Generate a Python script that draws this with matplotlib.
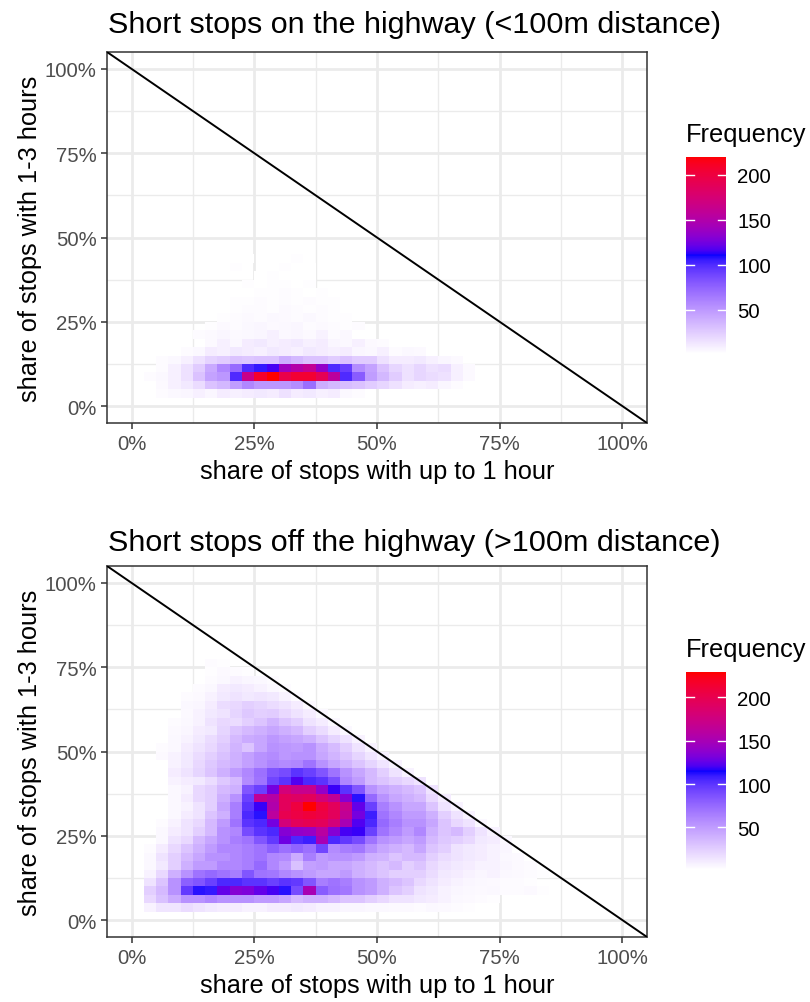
import numpy as np
import matplotlib
matplotlib.use("Agg")
import matplotlib.pyplot as plt
from matplotlib.colors import ListedColormap

plt.rcParams["font.family"] = ["Liberation Sans", "DejaVu Sans"]

# bin size of the 2d histogram (share units)
binw = 0.025

# top panel: (first column, counts) per row of bins, row 0 = 0-2.5%
top_start = [0, 2, 2, 1, 2, 2, 4, 6, 5, 6, 7, 8, 8, 9, 9, 10, 8, 9]
top_rows = [
    [],
    [3, 5, 6, 8, 6, 10, 8, 10, 12, 10, 15, 10, 12, 8, 10, 5, 3],
    [4, 8, 12, 18, 30, 35, 48, 58, 50, 50, 50, 55, 70, 40, 35, 32, 30, 25, 20, 15, 10, 8, 10, 6, 3],
    [3, 5, 8, 15, 30, 45, 50, 100, 165, 208, 220, 195, 205, 205, 190, 155, 100, 78, 48, 35, 25, 15, 20, 18, 15, 8, 4],
    [3, 8, 15, 25, 42, 58, 72, 100, 106, 115, 140, 150, 160, 135, 100, 92, 55, 45, 30, 20, 15, 20, 15, 18, 8, 4],
    [3, 5, 8, 15, 22, 25, 30, 28, 30, 30, 40, 35, 30, 30, 25, 30, 25, 25, 15, 10, 10, 12, 8, 6, 4],
    [3, 5, 10, 8, 12, 10, 8, 12, 10, 8, 12, 10, 8, 10, 6, 5, 8, 3, 5, 4],
    [4, 8, 5, 10, 12, 8, 10, 12, 8, 10, 6, 5, 8, 4, 3],
    [3, 4, 6, 4, 5, 6, 8, 5, 6, 4, 7, 3, 5],
    [2, 4, 3, 5, 6, 4, 5, 6, 3, 4, 3, 2, 3],
    [2, 3, 4, 3, 5, 4, 3, 5, 3, 2, 2],
    [2, 3, 3, 2, 4, 3, 2, 3, 2],
    [2, 2, 3, 2, 3, 2, 3, 2, 2],
    [1, 2, 2, 3, 2, 1, 2],
    [2, 1, 2, 2, 1, 2],
    [1, 2, 1, 1, 1],
    [2, 0, 0, 0, 2, 0, 1],
    [1, 0, 0, 0, 2],
]

# bottom panel
bot_start = [0, 1, 1, 1, 1, 1, 1, 1, 1, 2, 2, 2, 3, 3, 3, 3, 3, 3, 3, 2, 2,
             3, 3, 3, 4, 4, 4, 5, 6, 6, 6]
bot_rows = [
    [],
    [8, 14, 14, 18, 15, 12, 10, 10, 8, 8, 10, 10, 12, 10, 8, 8, 6, 6, 5, 5, 4, 4, 3, 5, 4, 3, 2],
    [20, 32, 42, 55, 55, 60, 55, 55, 55, 50, 50, 45, 35, 40, 40, 35, 30, 30, 25, 20, 15, 15, 12, 10, 8, 5, 4, 3, 2],
    [25, 35, 55, 98, 112, 110, 125, 135, 132, 125, 120, 112, 90, 150, 82, 72, 68, 55, 50, 40, 30, 25, 15, 12, 8, 6, 5, 4, 5, 3, 3, 4, 2],
    [15, 30, 55, 80, 85, 95, 105, 105, 100, 100, 95, 100, 98, 85, 65, 70, 65, 55, 50, 40, 35, 30, 20, 15, 10, 8, 6, 5, 4, 3, 3, 2],
    [8, 20, 40, 55, 70, 75, 70, 65, 85, 70, 68, 60, 55, 50, 45, 45, 50, 40, 35, 30, 25, 25, 25, 18, 12, 10, 8, 6, 8, 5, 4, 3, 2],
    [5, 12, 25, 40, 50, 50, 60, 60, 65, 75, 60, 50, 32, 48, 50, 45, 45, 40, 35, 30, 35, 25, 30, 20, 15, 12, 10, 8, 8, 6, 4, 3],
    [5, 15, 25, 35, 45, 55, 55, 60, 65, 70, 60, 58, 42, 65, 50, 55, 55, 50, 40, 38, 30, 35, 35, 25, 18, 15, 12, 10, 8, 5, 4],
    [3, 10, 20, 30, 40, 50, 60, 60, 65, 70, 80, 72, 78, 72, 92, 58, 65, 68, 55, 45, 40, 35, 45, 30, 25, 15, 12, 10, 8, 6],
    [5, 15, 20, 35, 45, 55, 65, 70, 85, 98, 128, 105, 108, 150, 105, 98, 90, 70, 55, 50, 45, 50, 35, 28, 25, 20, 12, 10, 5],
    [5, 10, 15, 25, 35, 55, 60, 90, 100, 105, 135, 140, 142, 160, 135, 120, 118, 95, 70, 60, 50, 60, 40, 30, 35, 25, 15, 8],
    [3, 8, 15, 20, 35, 50, 70, 100, 105, 130, 180, 195, 198, 195, 180, 150, 122, 105, 75, 65, 55, 55, 45, 30, 20, 15, 5],
    [5, 10, 15, 30, 40, 65, 105, 112, 162, 200, 205, 210, 205, 195, 165, 130, 108, 70, 60, 50, 50, 40, 25, 15, 8],
    [5, 8, 15, 25, 45, 65, 100, 118, 155, 195, 208, 229, 208, 195, 170, 125, 95, 65, 55, 45, 45, 30, 15, 8],
    [5, 10, 20, 25, 40, 55, 95, 165, 158, 195, 190, 195, 180, 165, 135, 112, 75, 55, 45, 40, 35, 20, 10],
    [5, 8, 20, 25, 35, 40, 85, 95, 130, 180, 170, 170, 140, 118, 100, 85, 55, 45, 40, 35, 30, 15],
    [8, 10, 12, 18, 28, 35, 58, 70, 92, 100, 122, 105, 100, 88, 60, 50, 35, 30, 25, 20, 15],
    [10, 15, 22, 30, 40, 50, 60, 72, 85, 90, 100, 95, 85, 70, 55, 45, 35, 25, 15, 8],
    [8, 12, 20, 28, 35, 40, 48, 55, 62, 58, 60, 70, 55, 45, 38, 30, 22, 14, 8],
    [4, 8, 12, 18, 25, 32, 40, 48, 55, 58, 52, 55, 55, 45, 38, 30, 22, 14, 8],
    [3, 5, 10, 15, 20, 28, 38, 30, 45, 55, 52, 50, 55, 42, 34, 25, 15, 8],
    [5, 8, 12, 18, 25, 35, 42, 45, 52, 48, 45, 40, 30, 22, 15, 8],
    [4, 6, 10, 12, 22, 30, 35, 40, 45, 40, 35, 25, 18, 10, 5],
    [3, 5, 8, 15, 20, 18, 25, 30, 38, 30, 25, 15, 10, 5],
    [4, 8, 12, 15, 22, 28, 25, 26, 20, 15, 10, 5],
    [5, 6, 10, 18, 20, 25, 22, 18, 15, 10, 4],
    [3, 4, 8, 12, 15, 12, 14, 12, 8, 3],
    [3, 5, 10, 12, 10, 8, 5, 3],
    [3, 5, 8, 6, 5, 3],
    [2, 4, 3, 2],
    [3, 2],
]

titles = ["Short stops on the highway (<100m distance)",
          "Short stops off the highway (>100m distance)"]
xlab = "share of stops with up to 1 hour"
ylab = "share of stops with 1-3 hours"
ticks = [0, 0.25, 0.5, 0.75, 1.0]
tick_labels = ["0%", "25%", "50%", "75%", "100%"]
cbar_ticks = [50, 100, 150, 200]


# white -> blue -> red, interpolated in Lab like ggplot's gradientn
def to_lab(rgb):
    c = np.array(rgb, float)
    c = np.where(c <= 0.04045, c / 12.92, ((c + 0.055) / 1.055) ** 2.4)
    m = np.array([[0.4124, 0.3576, 0.1805], [0.2126, 0.7152, 0.0722], [0.0193, 0.1192, 0.9505]])
    xyz = m @ c / np.array([0.95047, 1.0, 1.08883])
    f = np.where(xyz > (6 / 29) ** 3, np.cbrt(xyz), xyz / (3 * (6 / 29) ** 2) + 4 / 29)
    return np.array([116 * f[1] - 16, 500 * (f[0] - f[1]), 200 * (f[1] - f[2])])


def from_lab(lab):
    fy = (lab[0] + 16) / 116
    f = np.array([fy + lab[1] / 500, fy, fy - lab[2] / 200])
    xyz = np.where(f > 6 / 29, f ** 3, 3 * (6 / 29) ** 2 * (f - 4 / 29)) * np.array([0.95047, 1.0, 1.08883])
    minv = np.array([[3.2406, -1.5372, -0.4986], [-0.9689, 1.8758, 0.0415], [0.0557, -0.2040, 1.0570]])
    c = minv @ xyz
    c = np.where(c <= 0.0031308, 12.92 * c, 1.055 * np.clip(c, 0, None) ** (1 / 2.4) - 0.055)
    return np.clip(c, 0, 1)


stops = [to_lab((1, 1, 1)), to_lab((0, 0, 1)), to_lab((1, 0, 0))]
cols = []
for t in np.linspace(0, 1, 256):
    k = min(int(t * 2), 1)
    u = t * 2 - k
    cols.append(from_lab(stops[k] * (1 - u) + stops[k + 1] * u))
cmap = ListedColormap(cols)


def build(starts, rows):
    g = np.zeros((42, 42))
    for r, (s, vals) in enumerate(zip(starts, rows)):
        g[r, s:s + len(vals)] = vals
    return np.ma.masked_equal(g, 0)


W, H = 810, 1003
fig = plt.figure(figsize=(W / 100, H / 100), dpi=100)

base = 18.3
panels = [(build(top_start, top_rows), 53, 424, 157.7, 355, 25),
          (build(bot_start, bot_rows), 567, 938, 673, 871, 543)]

edges = np.arange(43) * binw
for i, (grid, ptop, pbot, ctop, cbot, ty) in enumerate(panels):
    ax = fig.add_axes([107 / W, 1 - pbot / H, 540 / W, (pbot - ptop) / H])
    vmin, vmax = 1, grid.max()
    ax.pcolormesh(edges, edges, grid, cmap=cmap, vmin=vmin, vmax=vmax, zorder=2)
    ax.plot([-0.05, 1.05], [1.05, -0.05], color="black", lw=1.4, zorder=3)
    ax.set_xlim(-0.05, 1.05)
    ax.set_ylim(-0.05, 1.05)
    ax.set_xticks(ticks)
    ax.set_yticks(ticks)
    ax.set_xticklabels(tick_labels)
    ax.set_yticklabels(tick_labels)
    ax.set_xticks([0.125, 0.375, 0.625, 0.875], minor=True)
    ax.set_yticks([0.125, 0.375, 0.625, 0.875], minor=True)
    ax.grid(which="major", color="#EBEBEB", lw=2.0, zorder=0)
    ax.grid(which="minor", color="#EBEBEB", lw=1.0, zorder=0)
    ax.set_axisbelow(True)
    ax.tick_params(which="major", length=4.6, width=1.1, color="#333333",
                   labelsize=base * 0.8, labelcolor="#4D4D4D", pad=3)
    ax.tick_params(which="minor", length=0)
    for sp in ax.spines.values():
        sp.set_color("#333333")
        sp.set_linewidth(1.1)
    fig.text(108 / W, 1 - ty / H, titles[i], fontsize=base * 1.2, ha="left", va="center")
    fig.text(377 / W, 1 - (pbot + 48) / H, xlab, fontsize=base, ha="center", va="center")
    fig.text(30 / W, 1 - (ptop + pbot) / 2 / H, ylab, fontsize=base, ha="center",
             va="center", rotation=90)

    # colour bar
    cax = fig.add_axes([686 / W, 1 - cbot / H, 40 / W, (cbot - ctop) / H])
    grad = np.linspace(vmin, vmax, 300).reshape(-1, 1)
    cax.imshow(grad, cmap=cmap, vmin=vmin, vmax=vmax, aspect="auto", origin="lower",
               extent=[0, 1, vmin, vmax])
    for t in cbar_ticks:
        cax.plot([0, 0.2], [t, t], color="white", lw=1)
        cax.plot([0.8, 1], [t, t], color="white", lw=1)
    cax.set_xlim(0, 1)
    cax.set_ylim(vmin, vmax)
    cax.set_xticks([])
    cax.yaxis.tick_right()
    cax.set_yticks(cbar_ticks)
    cax.tick_params(length=0, labelsize=base * 0.8, labelcolor="black", pad=8)
    for sp in cax.spines.values():
        sp.set_visible(False)
    fig.text(686 / W, 1 - (ctop - 23) / H, "Frequency", fontsize=base, ha="left", va="center")

fig.savefig("out.png", dpi=100)
